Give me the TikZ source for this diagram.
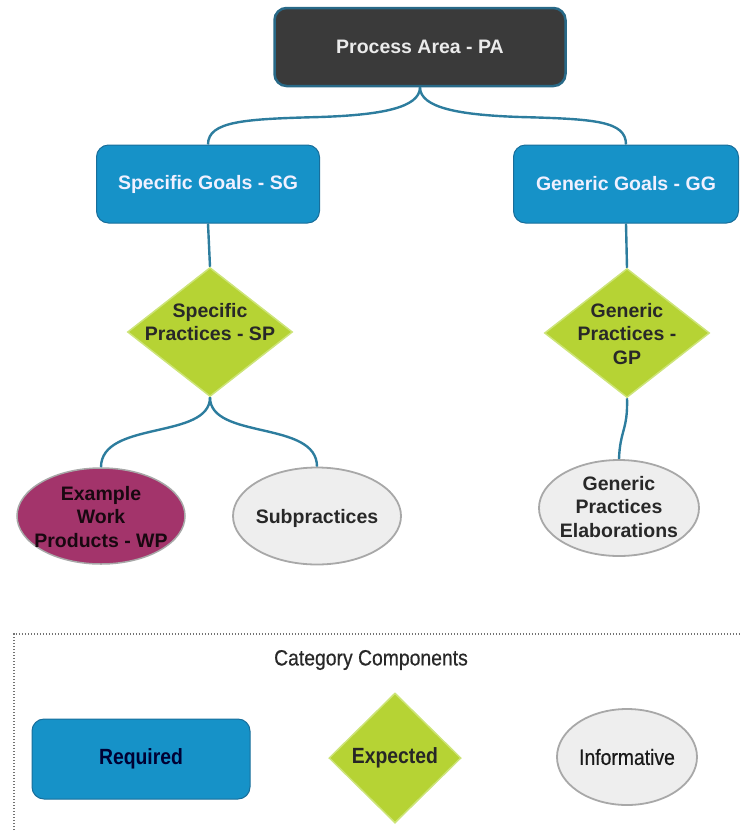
\documentclass[tikz,border=0pt]{standalone}
\usepackage{fontspec}
\setmainfont{Liberation Sans}
\newfontfamily\legendfont[FakeStretch=0.88]{Liberation Sans}
\newfontfamily\legendmedium[FakeStretch=0.88, FakeBold=0.5]{Liberation Sans}
\usetikzlibrary{shapes.geometric}

\definecolor{reqblue}{RGB}{22,146,200}
\definecolor{reqedge}{RGB}{24,110,155}
\definecolor{padark}{RGB}{58,58,58}
\definecolor{paedge}{RGB}{40,105,135}
\definecolor{expgreen}{RGB}{182,211,52}
\definecolor{expedge}{RGB}{205,228,120}
\definecolor{wpplum}{RGB}{163,52,107}
\definecolor{infgray}{RGB}{238,238,238}
\definecolor{infedge}{RGB}{168,168,168}
\definecolor{linkteal}{RGB}{45,125,158}
\definecolor{inktext}{RGB}{40,40,40}

\tikzset{
  boxlabel/.style={font=\bfseries\fontsize{19.5}{23.5}\selectfont},
  pabox/.style={rectangle, rounded corners=12pt, fill=padark, draw=paedge,
    line width=2.5pt, text=white!92!black, boxlabel},
  reqbox/.style={rectangle, rounded corners=12pt, fill=reqblue, draw=reqedge,
    line width=1pt, text=white!94!blue, boxlabel},
  expdiamond/.style={diamond, fill=expgreen, draw=expedge, line width=1.5pt,
    inner sep=0pt},
  wpellipse/.style={ellipse, fill=wpplum, draw=infedge, line width=1.5pt,
    inner sep=0pt},
  infellipse/.style={ellipse, fill=infgray, draw=infedge, line width=1.8pt,
    inner sep=0pt},
  shapetext/.style={align=center, inner sep=0pt, text=inktext, boxlabel},
  link/.style={draw=linkteal, line width=2.4pt},
  legendtitle/.style={font=\legendmedium\fontsize{22}{26}\selectfont, text=inktext},
  legendbold/.style={font=\legendfont\bfseries\fontsize{22}{26}\selectfont},
  legendplain/.style={font=\legendmedium\fontsize{22}{26}\selectfont},
}

\begin{document}
\begin{tikzpicture}[x=1pt, y=-1pt]
\useasboundingbox (0,0) rectangle (741,831);

% top level
\node[pabox, minimum width=291pt, minimum height=78pt] (PA) at (420,47) {Process Area - PA};

% goals
\node[reqbox, minimum width=223pt, minimum height=78pt] (SG) at (208,184) {Specific Goals - SG};
\node[reqbox, minimum width=225pt, minimum height=78pt] (GG) at (626,184) {Generic Goals - GG};

% practices
\node[expdiamond, minimum width=165pt, minimum height=129pt] (SP) at (210,332) {};
\node[shapetext] (SPt) at (210,322) {Specific\\Practices - SP};
\node[expdiamond, minimum width=165pt, minimum height=129pt] (GP) at (627,333) {};
\node[shapetext] (GPt) at (627,334) {Generic\\Practices -\\GP};

% informative components
\node[wpellipse, minimum width=168pt, minimum height=96pt] (WP) at (101,516) {};
\node[shapetext, text=black!85!wpplum] (WPt) at (101,517) {Example\\Work\\Products - WP};
\node[infellipse, minimum width=168pt, minimum height=97pt] (SUB) at (317,516) {};
\node[shapetext] (SUBt) at (317,518) {Subpractices};
\node[infellipse, minimum width=160pt, minimum height=96pt] (GPE) at (619,508) {};
\node[shapetext] (GPEt) at (619,507) {Generic\\Practices\\Elaborations};

% connectors
\draw[link] (PA.south) .. controls (420,108) and (380,115) .. (320,117)
  .. controls (245,119) and (208,121) .. (SG.north);
\draw[link] (PA.south) .. controls (420,108) and (460,115) .. (520,117)
  .. controls (595,119) and (626,121) .. (GG.north);
\draw[link] (SG.south) -- (SP.north);
\draw[link] (GG.south) -- (GP.north);
\draw[link] (SP.south) .. controls (210,440) and (101,420) .. (WP.north);
\draw[link] (SP.south) .. controls (210,440) and (317,420) .. (SUB.north);
\draw[link] (GP.south) .. controls (628,430) and (620,430) .. (GPE.north);

% legend frame
\coordinate (frameBL) at (14,845);
\coordinate (frameTL) at (14,634);
\coordinate (frameTR) at (760,634);
\draw[black!55, line width=1.3pt, dash pattern=on 1.3pt off 1.7pt]
  (frameBL) -- (frameTL) -- (frameTR);

\node[legendtitle] (CAT) at (371,660) {Category Components};
\node[reqbox, minimum width=218pt, minimum height=80pt, legendbold, text=black!80!blue] (REQ) at (141,759) {Required};
\node[expdiamond, minimum width=132pt, minimum height=130pt, legendbold, text=black!85] (EXP) at (395,758) {Expected};
\node[infellipse, minimum width=140pt, minimum height=96pt, legendplain, text=black!90] (INF) at (627,757) {Informative};
\end{tikzpicture}
\end{document}
